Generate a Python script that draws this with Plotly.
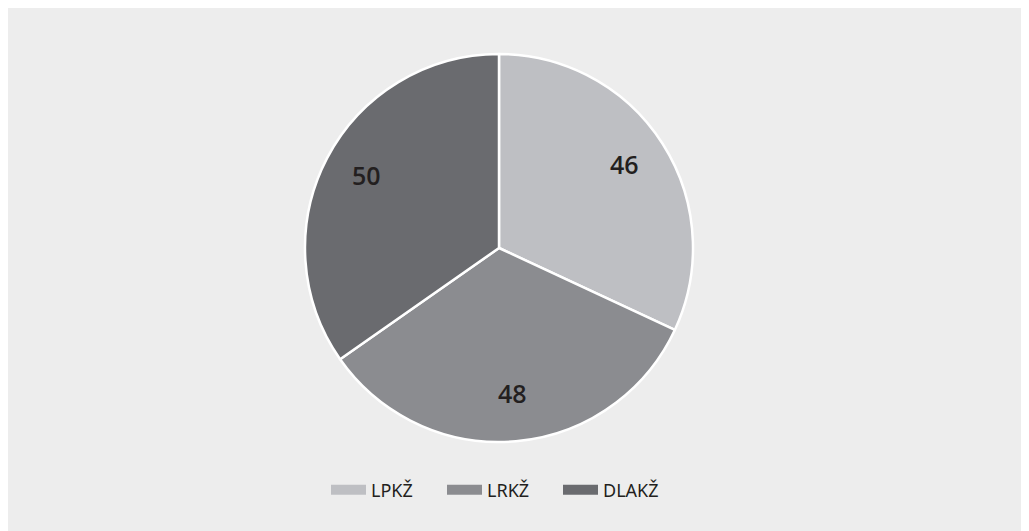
import math
import plotly.graph_objects as go

labels = ["LPKŽ", "LRKŽ", "DLAKŽ"]
values = [46, 48, 50]
colors = ["#bebfc3", "#8b8c90", "#6a6b6f"]

W, H = 1029, 531
cx, cy, r = 491, 240, 194
dom_x = [(cx - r) / W, (cx + r) / W]
dom_y = [1 - (cy + r) / H, 1 - (cy - r) / H]

fig = go.Figure()
fig.add_trace(go.Pie(
    labels=labels, values=values, sort=False, direction="clockwise", rotation=0,
    marker=dict(colors=colors, line=dict(color="white", width=2.5)),
    textinfo="none", showlegend=False,
    hoverinfo="label+value",
    domain=dict(x=dom_x, y=dom_y),
))

# legend entries (wide rectangular swatches)
for lab, col in zip(labels, colors):
    fig.add_trace(go.Scatter(x=[None], y=[None], mode="lines", name=lab,
                             line=dict(color=col, width=13), hoverinfo="skip"))

# value labels placed along each slice's bisector, derived from the data
total = sum(values)
annotations = []
start = 0.0
for v in values:
    mid = (start + v / 2) / total * 2 * math.pi
    start += v
    fx = cx + 0.77 * r * math.sin(mid)
    fy = cy - 0.77 * r * math.cos(mid) - 4
    annotations.append(dict(x=fx / W, y=1 - fy / H, xref="paper", yref="paper",
                            xanchor="center", yanchor="middle",
                            text=str(v), showarrow=False,
                            font=dict(family="Open Sans", size=25, color="#231f20", weight=600)))

fig.update_layout(
    width=W, height=H,
    margin=dict(l=0, r=0, t=0, b=0),
    paper_bgcolor="#ededed",
    plot_bgcolor="#ededed",
    font=dict(family="Noto Sans", color="#231f20"),
    xaxis=dict(visible=False), yaxis=dict(visible=False),
    showlegend=True,
    legend=dict(orientation="h", x=318 / W, xanchor="left", y=1 - 482 / H, yanchor="middle",
                font=dict(size=18, color="#231f20"), bgcolor="rgba(0,0,0,0)",
                itemwidth=35, entrywidth=66, entrywidthmode="pixels"),
    annotations=annotations,
)

fig.write_html("out.html")
